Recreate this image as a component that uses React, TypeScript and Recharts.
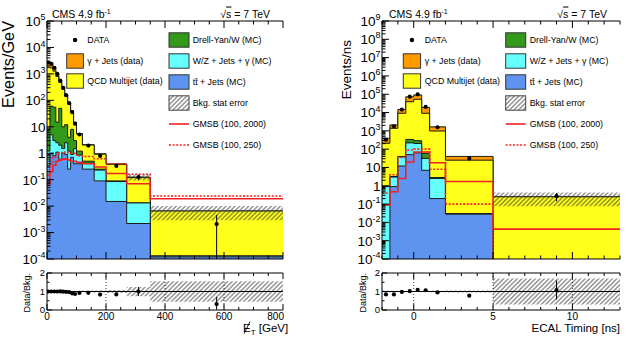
import React from 'react';
import {
  ComposedChart,
  Area,
  Line,
  Scatter,
  ErrorBar,
  XAxis,
  YAxis,
  ReferenceLine,
} from 'recharts';

const FONT = '"Liberation Sans", Arial, Helvetica, sans-serif';
const FLOOR = 1e-8;

// Missing transverse energy, events per GeV
const metEdges = [0, 10, 20, 30, 40, 50, 60, 70, 80, 90, 100, 120, 160, 200, 270, 350, 800];
const metTTbar = [0.35, 1.0, 0.8, 1.1, 0.6, 1.0, 0.9, 0.25, 0.7, 0.4, 0.4, 0.25, 0.09, 0.015, 0.0022, 0.00012];
const metWZ = [0.85, 4.0, 2.2, 1.4, 1.4, 0.5, 1.6, 0.95, 0.2, 1.1, 0.45, 0.17, 0.14, 0.07, 0.011, 0.00001];
const metDY = [6.8, 55, 52, 12.5, 48, 8.5, 9.5, 2.8, 7.1, 1.5, 0.35, 0.08, 0.02, 0.005, 0, 0];
const metQCD = [1750, 1620, 1220, 785, 425, 254, 132, 70, 29.6, 11.3, 4.1, 1.54, 0.67, 0.29, 0.106, 0.0064];
const metGJets = [945, 720, 425, 200, 84, 36, 16, 6.4, 2.4, 0.75, 0.22, 0.06, 0.03, 0.012, 0.006, 0];
const metData = [2700, 2400, 1700, 1000, 560, 297, 157, 78, 36, 13, 5.1, 1.95, 0.79, 0.33, 0.125, 0.0021];
const metDataErr: [number, number][] = [
  [27, 27], [24, 24], [17, 17], [10, 10], [6, 6], [3, 3], [1.6, 1.6], [0.8, 0.8],
  [0.4, 0.4], [0.15, 0.15], [0.1, 0.1], [0.04, 0.04], [0.03, 0.03], [0.02, 0.02],
  [0.03, 0.03], [0.002, 0.0025],
];
const metRelErr = [0.01, 0.01, 0.01, 0.015, 0.015, 0.02, 0.02, 0.03, 0.03, 0.04, 0.04, 0.05, 0.05, 0.08, 0.25, 0.55];
const metGmsb2000 = [0.07, 0.2, 0.35, 0.5, 0.55, 0.6, 0.6, 0.55, 0.5, 0.5, 0.45, 0.4, 0.3, 0.17, 0.07, 0.019];
const metGmsb250 = [0.15, 0.4, 0.7, 0.9, 1.0, 1.05, 1.1, 1.05, 1.0, 1.0, 0.8, 0.75, 0.62, 0.4, 0.16, 0.024];

// ECAL timing, events per ns
const timeEdges = [-2, -1.5, -1, -0.5, 0, 0.5, 1, 2, 5, 13];
const timeTTbar = [0, 0.9, 12, 50, 63, 7, 0.2, 0.028, 0];
const timeWZ = [0.9, 2.1, 26, 170, 142, 24, 2.3, 0.002, 0];
const timeDY = [0, 0.2, 2, 120, 85, 28, 0.3, 0, 0];
const timeQCD = [209, 1377, 9060, 38660, 52710, 9040, 977, 25, 0.25];
const timeGJets = [180, 720, 5700, 33000, 38000, 9900, 670, 15, 0];
const timeData = [328, 1764, 14500, 73400, 99200, 20300, 1570, 31, 0.27];
const timeDataErr: [number, number][] = [
  [8, 8], [30, 30], [100, 100], [250, 250], [300, 300], [120, 120], [35, 35], [1.5, 1.5], [0.13, 0.13],
];
const timeRelErr = [0.05, 0.04, 0.03, 0.02, 0.02, 0.03, 0.04, 0.06, 0.7];
const timeGmsb2000 = [0.09, 0.47, 2.5, 20, 70, 70, 18, 1.7, 0.0043];
const timeGmsb250 = [0.4, 4, 35, 90, 100, 100, 8, 0.1, 0];

// stack order, bottom to top: ttbar, W/Z, Drell-Yan, QCD, gamma+jets
const stackColors = ['#5f93f0', '#66ffff', '#33991a', '#ffff1a', '#ff9900'];
const RED = '#ee2222';

type HistSet = {
  edges: number[];
  stack: number[][];
  data: number[];
  dataErr: [number, number][];
  relErr: number[];
  gmsbA: number[];
  gmsbB: number[];
};

const metSet: HistSet = {
  edges: metEdges,
  stack: [metTTbar, metWZ, metDY, metQCD, metGJets],
  data: metData,
  dataErr: metDataErr,
  relErr: metRelErr,
  gmsbA: metGmsb2000,
  gmsbB: metGmsb250,
};

const timeSet: HistSet = {
  edges: timeEdges,
  stack: [timeTTbar, timeWZ, timeDY, timeQCD, timeGJets],
  data: timeData,
  dataErr: timeDataErr,
  relErr: timeRelErr,
  gmsbA: timeGmsb2000,
  gmsbB: timeGmsb250,
};

const totalsOf = (set: HistSet) =>
  set.edges.slice(0, -1).map((_, b) => set.stack.reduce((s, comp) => s + comp[b], 0));

// one row per bin edge, drawn with stepAfter
function stepRows(set: HistSet) {
  const nBins = set.edges.length - 1;
  const totals = totalsOf(set);
  return set.edges.map((x, i) => {
    const b = Math.min(i, nBins - 1);
    const row: Record<string, any> = { x };
    let cum = 0;
    set.stack.forEach((comp, k) => {
      cum += comp[b];
      row[`s${k}`] = Math.max(cum, FLOOR);
    });
    const e = set.relErr[b];
    row.band = [Math.max(totals[b] * (1 - e), FLOOR), totals[b] * (1 + e)];
    row.rband = [1 - e, 1 + e];
    row.gmsbA = Math.max(set.gmsbA[b], FLOOR);
    row.gmsbB = Math.max(set.gmsbB[b], FLOOR);
    return row;
  });
}

const binCenter = (set: HistSet, b: number) => (set.edges[b] + set.edges[b + 1]) / 2;

const mainPoints = (set: HistSet) =>
  set.data.map((v, b) => ({ x: binCenter(set, b), y: v, err: set.dataErr[b] }));

function ratioPoints(set: HistSet) {
  const totals = totalsOf(set);
  return set.data.map((v, b) => ({
    x: binCenter(set, b),
    y: v / totals[b],
    err: [set.dataErr[b][0] / totals[b], set.dataErr[b][1] / totals[b]],
  }));
}

// tick helpers
const logTicks = (lo: number, hi: number) => {
  const out: number[] = [];
  for (let e = lo; e < hi; e++) for (let k = 1; k < 10; k++) out.push(k * Math.pow(10, e));
  out.push(Math.pow(10, hi));
  return out;
};
const linTicks = (lo: number, hi: number, step: number) => {
  const out: number[] = [];
  for (let v = lo; v <= hi + 1e-9; v += step) out.push(Math.round(v * 1000) / 1000);
  return out;
};
const isDecade = (v: number) => {
  const l = Math.log10(v);
  return Math.abs(l - Math.round(l)) < 1e-9;
};

type Side = 'left' | 'right' | 'top' | 'bottom';

function makeTick(
  side: Side,
  isMajor: (v: number) => boolean,
  majorLen: number,
  minorLen: number,
  label?: (v: number, x: number, y: number) => React.ReactNode
) {
  return (props: any) => {
    const { x, y, payload } = props;
    const v = payload.value;
    const major = isMajor(v);
    const len = major ? majorLen : minorLen;
    let x2 = x;
    let y2 = y;
    if (side === 'left') x2 = x + len;
    if (side === 'right') x2 = x - len;
    if (side === 'top') y2 = y + len;
    if (side === 'bottom') y2 = y - len;
    return (
      <g>
        <line x1={x} y1={y} x2={x2} y2={y2} stroke="#000" strokeWidth={1} />
        {label && major ? label(v, x, y) : null}
      </g>
    );
  };
}

const logLabel = (fs: number) => (v: number, x: number, y: number) => {
  const e = Math.round(Math.log10(v));
  return (
    <text x={x - 1.5} y={y + fs * 0.36} textAnchor="end" fontSize={fs} fontFamily={FONT} fill="#000">
      {e === 0 ? '1' : e === 1 ? '10' : (
        <>
          10
          <tspan dy={-fs * 0.42} fontSize={fs * 0.66}>
            {e}
          </tspan>
        </>
      )}
    </text>
  );
};

const ratioYLabel = (v: number, x: number, y: number) => (
  <text x={x - 2} y={y + 3.4} textAnchor="end" fontSize={9.5} fontFamily={FONT} fill="#000">
    {v}
  </text>
);

const xLabel = (xMax: number) => (v: number, x: number, y: number) => (
  <text
    x={v === xMax ? x + 1 : x}
    y={y + 9.5}
    textAnchor={v === xMax ? 'end' : 'middle'}
    fontSize={10}
    fontFamily={FONT}
    fill="#000"
  >
    {v}
  </text>
);

const DataDot = (p: any) => <circle cx={p.cx} cy={p.cy} r={2.1} fill="#000" />;

type LegendEntry = { label: string; kind: 'dot' | 'box' | 'hatch' | 'line' | 'dash'; color?: string };

const legendColA: LegendEntry[] = [
  { label: 'DATA', kind: 'dot' },
  { label: 'γ + Jets (data)', kind: 'box', color: stackColors[4] },
  { label: 'QCD Multijet (data)', kind: 'box', color: stackColors[3] },
];
const legendColB: LegendEntry[] = [
  { label: 'Drell-Yan/W (MC)', kind: 'box', color: stackColors[2] },
  { label: 'W/Z + Jets + γ (MC)', kind: 'box', color: stackColors[1] },
  { label: 'tt\u0304 + Jets (MC)', kind: 'box', color: stackColors[0] },
  { label: 'Bkg. stat error', kind: 'hatch' },
  { label: 'GMSB (100, 2000)', kind: 'line' },
  { label: 'GMSB (100, 250)', kind: 'dash' },
];
const legendRowsA = [40, 61, 81];
const legendRowsB = [40, 61, 82, 103, 124, 145];

type Layout = {
  offset: number;
  plotLeft: number;
  plotRight: number;
  xDomain: [number, number];
  xTicks: number[];
  xMajor: number[];
  xGrid: number[];
  yExp: [number, number];
  yTitle: string;
  yTitleSize: number;
  yTitleX: number;
  yTitleEnd: number;
  ratioTitleX: number;
  slashedTitle: boolean;
  xTitleX: number;
  cmsX: number;
  sqrtsX: number;
  colA: { boxX: number; boxW: number; textX: number };
  colB: { boxX: number; boxW: number; textX: number };
};

const W = 314;
const H = 346;
const MAIN_TOP = 21;
const MAIN_BOTTOM = 259;
const RATIO_TOP = 273;
const RATIO_BOTTOM = 310;
const X_TITLE_Y = 332;

function LegendMarks({ entries, rows, col }: { entries: LegendEntry[]; rows: number[]; col: Layout['colA'] }) {
  return (
    <g fontFamily={FONT} fontSize={8.8} fill="#000">
      {entries.map((en, i) => {
        const y = rows[i];
        const { boxX, boxW, textX } = col;
        let mark: React.ReactNode = null;
        if (en.kind === 'dot') mark = <circle cx={boxX + boxW / 2} cy={y} r={2.2} fill="#000" />;
        if (en.kind === 'box')
          mark = <rect x={boxX} y={y - 7.2} width={boxW} height={14.4} fill={en.color} stroke="#333" strokeWidth={1} />;
        if (en.kind === 'hatch')
          mark = <rect x={boxX} y={y - 7.2} width={boxW} height={14.4} fill="url(#bkgHatch)" stroke="#444" strokeWidth={1} />;
        if (en.kind === 'line')
          mark = <line x1={boxX} x2={boxX + boxW} y1={y} y2={y} stroke={RED} strokeWidth={1.6} />;
        if (en.kind === 'dash')
          mark = <line x1={boxX} x2={boxX + boxW} y1={y} y2={y} stroke={RED} strokeWidth={1.6} strokeDasharray="2 1.6" />;
        return (
          <g key={en.label}>
            {mark}
            <text x={textX} y={y + 3.1}>
              {en.label}
            </text>
          </g>
        );
      })}
    </g>
  );
}

function Panel({ set, layout }: { set: HistSet; layout: Layout }) {
  const rows = stepRows(set);
  const pts = mainPoints(set);
  const rpts = ratioPoints(set);
  const right = W - layout.plotRight;
  const xMax = layout.xDomain[1];
  const yDomain: [number, number] = [Math.pow(10, layout.yExp[0]), Math.pow(10, layout.yExp[1])];
  const yTicks = logTicks(layout.yExp[0], layout.yExp[1]);
  const isXMajor = (v: number) => layout.xMajor.some((m) => Math.abs(m - v) < 1e-6);

  const xAxes = (withLabels: boolean, majorLen: number, minorLen: number) => [
    <XAxis
      key="xb"
      type="number"
      dataKey="x"
      domain={layout.xDomain}
      ticks={layout.xTicks}
      allowDataOverflow
      interval={0}
      height={withLabels ? 20 : 2}
      tickSize={0}
      tickMargin={0}
      tickLine={false}
      axisLine={{ stroke: '#000', strokeWidth: 1 }}
      tick={makeTick('bottom', isXMajor, majorLen, minorLen, withLabels ? xLabel(xMax) : undefined)}
    />,
    <XAxis
      key="xt"
      xAxisId="top"
      orientation="top"
      type="number"
      dataKey="x"
      domain={layout.xDomain}
      ticks={layout.xTicks}
      allowDataOverflow
      interval={0}
      height={2}
      tickSize={0}
      tickMargin={0}
      tickLine={false}
      axisLine={{ stroke: '#000', strokeWidth: 1 }}
      tick={makeTick('top', isXMajor, majorLen, minorLen)}
    />,
  ];

  return (
    <div style={{ position: 'absolute', left: layout.offset, top: 0, width: W, height: H }}>
      <div style={{ position: 'absolute', left: 0, top: 0 }}>
        <ComposedChart
          width={W}
          height={H}
          data={rows}
          margin={{ top: MAIN_TOP - 2, right, bottom: H - MAIN_BOTTOM - 2, left: 0 }}
        >
          {[4, 3, 2, 1, 0].map((k) => (
            <Area
              key={`s${k}`}
              dataKey={`s${k}`}
              type="stepAfter"
              baseValue={yDomain[0]}
              fill={stackColors[k]}
              fillOpacity={1}
              stroke="#1a1a1a"
              strokeWidth={1}
              dot={false}
              activeDot={false}
              isAnimationActive={false}
            />
          ))}
          <Area
            dataKey="band"
            type="stepAfter"
            fill="url(#bkgHatch)"
            fillOpacity={1}
            stroke="none"
            dot={false}
            activeDot={false}
            isAnimationActive={false}
          />
          <Line
            dataKey="gmsbA"
            type="stepAfter"
            stroke={RED}
            strokeWidth={1.6}
            dot={false}
            activeDot={false}
            isAnimationActive={false}
          />
          <Line
            dataKey="gmsbB"
            type="stepAfter"
            stroke={RED}
            strokeWidth={1.6}
            strokeDasharray="2 1.6"
            dot={false}
            activeDot={false}
            isAnimationActive={false}
          />
          <Scatter data={pts} dataKey="y" shape={DataDot} isAnimationActive={false}>
            <ErrorBar dataKey="err" direction="y" width={0} stroke="#000" strokeWidth={1} />
          </Scatter>
          {xAxes(false, 7, 3.5)}
          <YAxis
            type="number"
            dataKey="y"
            scale="log"
            domain={yDomain}
            ticks={yTicks}
            allowDataOverflow
            interval={0}
            width={layout.plotLeft}
            tickSize={0}
            tickMargin={0}
            tickLine={false}
            axisLine={{ stroke: '#000', strokeWidth: 1 }}
            tick={makeTick('left', isDecade, 7, 3.5, logLabel(13.5))}
          />
          <YAxis
            yAxisId="r"
            orientation="right"
            type="number"
            scale="log"
            domain={yDomain}
            ticks={yTicks}
            allowDataOverflow
            interval={0}
            width={0}
            tickSize={0}
            tickMargin={0}
            tickLine={false}
            axisLine={{ stroke: '#000', strokeWidth: 1 }}
            tick={makeTick('right', isDecade, 7, 3.5)}
          />
        </ComposedChart>
      </div>

      <div style={{ position: 'absolute', left: 0, top: 0 }}>
        <ComposedChart
          width={W}
          height={H}
          data={rows}
          margin={{ top: RATIO_TOP - 2, right, bottom: H - RATIO_BOTTOM - 20, left: 0 }}
        >
          {layout.xGrid.map((g) => (
            <ReferenceLine key={g} x={g} stroke="#000" strokeWidth={0.8} strokeDasharray="1 2" />
          ))}
          <Area
            dataKey="rband"
            type="stepAfter"
            fill="url(#bkgHatch)"
            fillOpacity={1}
            stroke="none"
            dot={false}
            activeDot={false}
            isAnimationActive={false}
          />
          <ReferenceLine y={1} stroke="#000" strokeWidth={1} />
          <Scatter data={rpts} dataKey="y" shape={DataDot} isAnimationActive={false}>
            <ErrorBar dataKey="err" direction="y" width={0} stroke="#000" strokeWidth={1} />
          </Scatter>
          {xAxes(true, 6, 3)}
          <YAxis
            type="number"
            dataKey="y"
            domain={[0, 2]}
            ticks={[0, 0.5, 1, 1.5, 2]}
            allowDataOverflow
            interval={0}
            width={layout.plotLeft}
            tickSize={0}
            tickMargin={0}
            tickLine={false}
            axisLine={{ stroke: '#000', strokeWidth: 1 }}
            tick={makeTick('left', Number.isInteger, 5, 2.5, ratioYLabel)}
          />
          <YAxis
            yAxisId="r"
            orientation="right"
            type="number"
            domain={[0, 2]}
            ticks={[0, 0.5, 1, 1.5, 2]}
            allowDataOverflow
            interval={0}
            width={0}
            tickSize={0}
            tickMargin={0}
            tickLine={false}
            axisLine={{ stroke: '#000', strokeWidth: 1 }}
            tick={makeTick('right', Number.isInteger, 5, 2.5)}
          />
        </ComposedChart>
      </div>

      <svg width={W} height={H} style={{ position: 'absolute', left: 0, top: 0 }}>
        <g fontFamily={FONT} fill="#000">
          <text x={layout.cmsX} y={17.5} fontSize={10.5}>
            CMS 4.9 fb
            <tspan dy={-4} fontSize={7}>
              -1
            </tspan>
          </text>
          <text x={layout.sqrtsX} y={17.5} fontSize={10.5} textAnchor="end">
            √<tspan style={{ textDecoration: 'overline' }}>s</tspan> = 7 TeV
          </text>
          <text
            x={layout.yTitleX}
            y={layout.yTitleEnd}
            fontSize={layout.yTitleSize}
            textAnchor="end"
            transform={`rotate(-90 ${layout.yTitleX} ${layout.yTitleEnd})`}
          >
            {layout.yTitle}
          </text>
          <text
            x={layout.ratioTitleX}
            y={RATIO_TOP}
            fontSize={9}
            textAnchor="end"
            transform={`rotate(-90 ${layout.ratioTitleX} ${RATIO_TOP})`}
          >
            Data/Bkg.
          </text>
          {layout.slashedTitle ? (
            <>
              <text x={layout.xTitleX} y={X_TITLE_Y} fontSize={11.5}>
                E
                <tspan dy={2.5} fontSize={8}>
                  T
                </tspan>
                <tspan dy={-2.5}> [GeV]</tspan>
              </text>
              <line
                x1={layout.xTitleX + 1.2}
                y1={X_TITLE_Y + 1.5}
                x2={layout.xTitleX + 7}
                y2={X_TITLE_Y - 10.5}
                stroke="#000"
                strokeWidth={0.9}
              />
            </>
          ) : (
            <text x={layout.xTitleX} y={X_TITLE_Y} fontSize={11.5} textAnchor="end">
              ECAL Timing [ns]
            </text>
          )}
        </g>
        <LegendMarks entries={legendColA} rows={legendRowsA} col={layout.colA} />
        <LegendMarks entries={legendColB} rows={legendRowsB} col={layout.colB} />
      </svg>
    </div>
  );
}

const metLayout: Layout = {
  offset: 0,
  plotLeft: 47,
  plotRight: 283,
  xDomain: [0, 800],
  xTicks: linTicks(0, 800, 50),
  xMajor: [0, 200, 400, 600, 800],
  xGrid: [200, 400, 600],
  yExp: [-4, 5],
  yTitle: 'Events/GeV',
  yTitleSize: 16.3,
  yTitleX: 13.5,
  yTitleEnd: 21,
  ratioTitleX: 30,
  slashedTitle: true,
  xTitleX: 243,
  cmsX: 52,
  sqrtsX: 270,
  colA: { boxX: 66.7, boxW: 16.7, textX: 87.3 },
  colB: { boxX: 169, boxW: 20, textX: 192.7 },
};

const timeLayout: Layout = {
  offset: 314,
  plotLeft: 68,
  plotRight: 306,
  xDomain: [-2, 13],
  xTicks: linTicks(-2, 13, 1),
  xMajor: [0, 5, 10],
  xGrid: [0, 5, 10],
  yExp: [-4, 9],
  yTitle: 'Events/ns',
  yTitleSize: 13.5,
  yTitleX: 36.5,
  yTitleEnd: 40,
  ratioTitleX: 52.3,
  slashedTitle: false,
  xTitleX: 306,
  cmsX: 75,
  sqrtsX: 293,
  colA: { boxX: 89.3, boxW: 17.3, textX: 110.7 },
  colB: { boxX: 191.7, boxW: 20, textX: 215.7 },
};

export default function App() {
  return (
    <div
      style={{
        position: 'absolute',
        left: 0,
        top: 0,
        width: 628,
        height: 346,
        background: '#fff',
        overflow: 'hidden',
        fontFamily: FONT,
      }}
    >
      <svg width={0} height={0} style={{ position: 'absolute' }}>
        <defs>
          <pattern id="bkgHatch" patternUnits="userSpaceOnUse" width={3.2} height={3.2} patternTransform="rotate(45)">
            <line x1={1.6} y1={0} x2={1.6} y2={3.2} stroke="#3a3a3a" strokeWidth={0.8} />
          </pattern>
        </defs>
      </svg>
      <Panel set={metSet} layout={metLayout} />
      <Panel set={timeSet} layout={timeLayout} />
    </div>
  );
}
